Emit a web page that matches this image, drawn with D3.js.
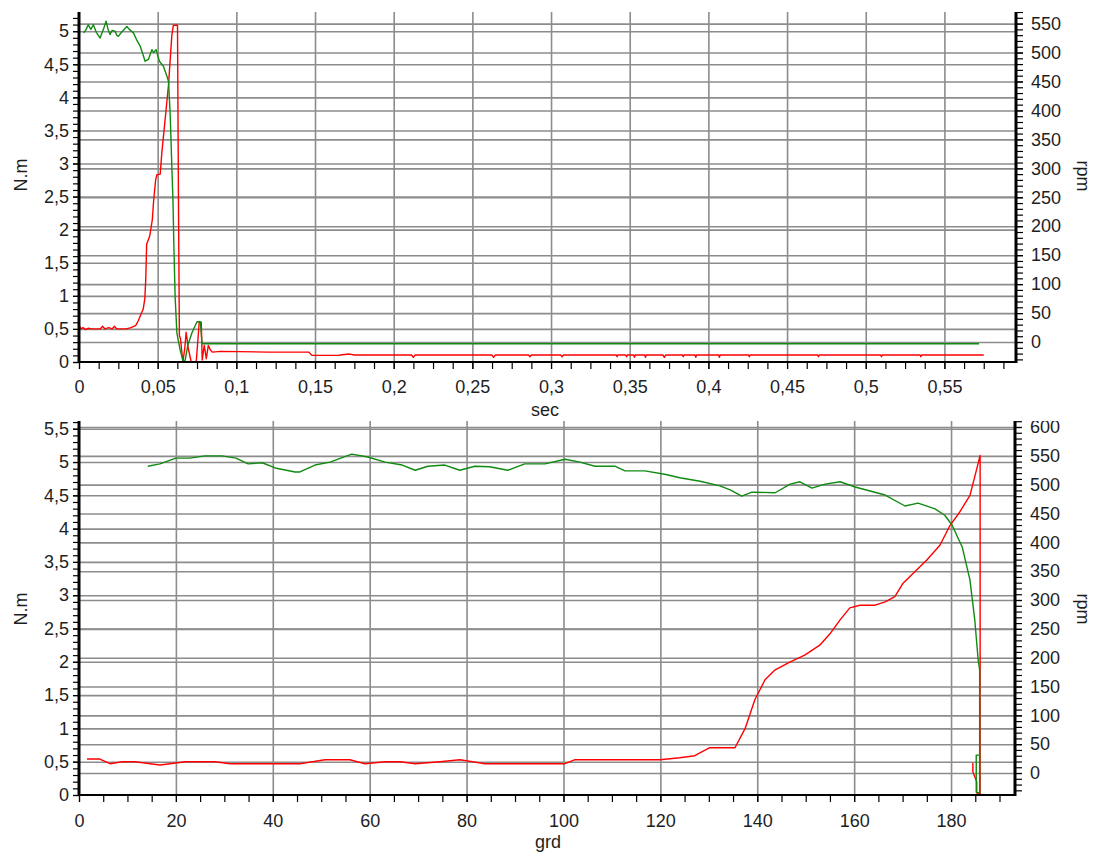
<!DOCTYPE html>
<html><head><meta charset="utf-8">
<script src="https://cdn.jsdelivr.net/npm/d3@7"></script>
<style>
body{margin:0;background:#fff}
svg{display:block}
text{font-family:"Liberation Sans",Arial,sans-serif;}
</style>
</head><body>
<svg id="c" width="1094" height="856"></svg>
<script>
// ---------------- DATA ----------------
// Top panel: x = time (sec)
const topXTicks = [0,0.05,0.1,0.15,0.2,0.25,0.3,0.35,0.4,0.45,0.5,0.55];
const topLeftTicks = [0,0.5,1,1.5,2,2.5,3,3.5,4,4.5,5];
const topRightTicks = [0,50,100,150,200,250,300,350,400,450,500,550];
// torque (N.m, left axis) - red
const topTorqueSec = [0,0.0013,0.0025,0.004,0.006,0.008,0.011,0.0135,0.015,0.0165,0.019,0.021,0.0225,0.024,0.03,0.033,0.036,0.0376,0.039,0.0408,0.0418,0.0424,0.043,0.0449,0.0466,0.0474,0.0487,0.0495,0.0516,0.0527,0.0548,0.0569,0.059,0.06,0.0626,0.0632,0.0638,0.0645,0.066,0.0672,0.0681,0.0695,0.0713,0.0745,0.0764,0.0777,0.0783,0.0796,0.0809,0.0822,0.0835,0.0847,0.09,0.12,0.146,0.148,0.165,0.167,0.172,0.175,0.2115,0.2125,0.2135,0.2625,0.2635,0.2645,0.2857,0.2866,0.2875,0.3062,0.307,0.3078,0.3415,0.342,0.3425,0.3475,0.348,0.3485,0.3525,0.353,0.3535,0.3595,0.36,0.3605,0.3712,0.372,0.3728,0.3835,0.384,0.3845,0.3915,0.392,0.3925,0.4065,0.407,0.4075,0.4255,0.426,0.4265,0.4695,0.47,0.4705,0.5095,0.51,0.5105,0.5345,0.535,0.5355,0.575];
const topTorque =    [0.55,0.5,0.52,0.49,0.51,0.5,0.5,0.5,0.54,0.5,0.52,0.5,0.54,0.5,0.5,0.52,0.55,0.62,0.7,0.8,0.95,1.23,1.78,1.9,2.15,2.43,2.75,2.83,2.84,3.18,3.68,4.19,4.94,5.09,5.09,2.5,0.4,0.35,0.0,0.2,0.45,0.2,0.0,0.0,0.6,0.6,0.03,0.25,0.05,0.25,0.18,0.15,0.16,0.15,0.15,0.1,0.1,0.11,0.12,0.105,0.105,0.07,0.105,0.105,0.07,0.105,0.105,0.08,0.105,0.105,0.08,0.105,0.105,0.08,0.105,0.105,0.08,0.105,0.105,0.07,0.105,0.105,0.07,0.105,0.105,0.07,0.105,0.105,0.08,0.105,0.105,0.07,0.105,0.105,0.07,0.105,0.105,0.08,0.105,0.105,0.08,0.105,0.105,0.08,0.105,0.105,0.08,0.105,0.105];
// speed (rpm, right axis) - green
const topRpmSec = [0.003,0.0045,0.0059,0.0075,0.0091,0.011,0.0134,0.0155,0.0172,0.0185,0.0197,0.021,0.0229,0.024,0.025,0.027,0.0304,0.032,0.0346,0.037,0.0389,0.0405,0.042,0.0441,0.0463,0.0475,0.049,0.0511,0.0537,0.0559,0.0569,0.058,0.059,0.0597,0.0603,0.0611,0.0622,0.0643,0.0664,0.0675,0.0692,0.0718,0.075,0.0771,0.0782,0.572];
const topRpm =    [534,540,548,540,548,535,525,540,554,540,531,538,537,530,528,535,545,540,534,520,511,498,485,488,505,500,505,485,476,459,450,390,303,246,165,78,16,-14,-35,-31,-5,16,35,35,-3,-3];

// Bottom panel: x = angle (grd)
const botXTicks = [0,20,40,60,80,100,120,140,160,180];
const botLeftTicks = [0,0.5,1,1.5,2,2.5,3,3.5,4,4.5,5,5.5];
const botRightTicks = [0,50,100,150,200,250,300,350,400,450,500,550,600];
// torque (N.m) - red
const botTorqueGrd = [1.65,4.3,6.4,8.9,11.6,16.7,18.8,21.9,28.1,31.2,45.6,50.8,55.9,59,63.2,66.3,69.4,74.5,78.6,83.8,100.3,102.4,119.9,124,127.1,130.2,135.4,137.5,139.5,141.6,143.7,146.8,149.8,152.9,155,157.1,159.1,161.2,164.3,166.4,168.4,170.1,172.2,175,177.7,179.8,181.8,183.9,184.9,186.0,186.0,185.3,185.3,184.5,184.5];
const botTorque =    [0.54,0.54,0.47,0.5,0.5,0.45,0.47,0.5,0.5,0.47,0.47,0.53,0.53,0.47,0.5,0.5,0.47,0.5,0.53,0.47,0.47,0.53,0.53,0.56,0.59,0.71,0.71,1.0,1.43,1.73,1.88,2.0,2.1,2.25,2.42,2.63,2.81,2.85,2.85,2.9,2.98,3.18,3.33,3.53,3.75,4.05,4.25,4.5,4.78,5.1,0.02,0.03,0.2,0.35,0.48];
// speed (rpm) - green
const botRpmGrd = [14.2,16.7,20,22.9,26,29.5,32.4,34.9,37.8,40.5,44.6,45.6,48.7,51.8,56.3,59.6,63.2,66.7,69.4,72,75.5,78.6,81.7,84.8,88.5,92,96.2,100.3,103.4,106.5,110.6,112.7,116.8,120.9,124,128.2,132.3,134.4,136.8,138.9,143.7,146.8,148.8,151.3,154,157.1,160.2,163.3,166.4,170.5,173.2,176.7,178.7,180.2,182.3,183.9,184.9,185.6,185.9,185.9,185.2,185.2,185.8];
const botRpm =    [532,536,546,546,550,550,546,536,538,529,522,522,534,539,553,548,539,534,525,532,534,525,532,531,525,536,536,544,539,532,532,524,524,518,512,506,498,491,480,487,486,501,505,494,501,505,496,489,482,463,468,458,447,430,392,335,265,196,179,-35,-33,31,31];

// ---------------- DRAW ----------------
const svg = d3.select('#c');
const fmt = v => String(+v.toFixed(4)).replace('.', ',');
const GRID = '#8c8c8c';

function panel(o){
  const x = d3.scaleLinear().domain(o.xDomain).range([o.left, o.right]);
  const yL = d3.scaleLinear().domain(o.yLDomain).range([o.bottom, o.top]);
  const yR = d3.scaleLinear().domain(o.yRDomain).range([o.bottom, o.top]);
  const h = o.bottom - o.top, w = o.right - o.left;

  const clipId = 'clip' + o.id;
  svg.append('clipPath').attr('id', clipId).append('rect')
    .attr('x', 0).attr('y', o.top).attr('width', 1094).attr('height', 856 - o.top);
  const g = svg.append('g').attr('clip-path', `url(#${clipId})`);

  // grid lines
  const gx = g.append('g').attr('transform', `translate(0,${o.bottom})`)
    .call(d3.axisBottom(x).tickValues(o.xTicks.filter(d => d > 0)).tickSize(-h).tickFormat(''));
  const gyl = g.append('g').attr('transform', `translate(${o.left},0)`)
    .call(d3.axisLeft(yL).tickValues(o.yLTicks.filter(d => d > 0)).tickSize(-w).tickFormat(''));
  const gyr = g.append('g').attr('transform', `translate(${o.right},0)`)
    .call(d3.axisRight(yR).tickValues(o.yRTicks).tickSize(-w).tickFormat(''));
  [gx, gyl, gyr].forEach(s => {
    s.select('.domain').remove();
    s.selectAll('line').attr('stroke', GRID).attr('stroke-width', 1.6);
  });

  // series
  const lineL = d3.line().x(d => x(d[0])).y(d => yL(d[1]));
  const lineR = d3.line().x(d => x(d[0])).y(d => yR(d[1]));
  g.append('path').datum(o.redX.map((v, i) => [v, o.redY[i]]))
    .attr('d', lineL).attr('fill', 'none').attr('stroke', '#ff0000').attr('stroke-width', 1.4)
    .attr('stroke-linejoin', 'round');
  g.append('path').datum(o.greenX.map((v, i) => [v, o.greenY[i]]))
    .attr('d', lineR).attr('fill', 'none').attr('stroke', '#118a11').attr('stroke-width', 1.4)
    .attr('stroke-linejoin', 'round');

  // axes
  const xMinor = d3.range(o.xDomain[0], o.xDomain[1] + 1e-9, o.xMinorStep);
  const yLMinor = d3.range(0, o.yLDomain[1] + 1e-9, o.yLMinorStep);
  const yRMinor = d3.range(o.yRMinorStart, o.yRDomain[1] + 1e-9, o.yRMinorStep);

  const axB = g.append('g').attr('transform', `translate(0,${o.bottom})`)
    .call(d3.axisBottom(x).tickValues(xMinor).tickSize(7).tickFormat(''));
  const axBL = g.append('g').attr('transform', `translate(0,${o.bottom})`)
    .call(d3.axisBottom(x).tickValues(o.xTicks).tickSize(7).tickPadding(o.xPad).tickFormat(fmt));
  const axL = g.append('g').attr('transform', `translate(${o.left},0)`)
    .call(d3.axisLeft(yL).tickValues(yLMinor).tickSize(6).tickFormat(''));
  const axLL = g.append('g').attr('transform', `translate(${o.left},0)`)
    .call(d3.axisLeft(yL).tickValues(o.yLTicks).tickSize(6).tickPadding(4).tickFormat(fmt));
  const axR = g.append('g').attr('transform', `translate(${o.right},0)`)
    .call(d3.axisRight(yR).tickValues(yRMinor).tickSize(7).tickFormat(''));
  const axRL = g.append('g').attr('transform', `translate(${o.right},0)`)
    .call(d3.axisRight(yR).tickValues(o.yRTicks).tickSize(7).tickPadding(8).tickFormat(fmt));

  [axB, axBL, axL, axLL, axR, axRL].forEach(s => {
    s.selectAll('.domain').remove();
    s.selectAll('line').attr('stroke', '#000').attr('stroke-width', 1.2);
    s.selectAll('text').attr('font-size', 18).attr('fill', '#1e1e1e')
      .attr('font-family', '"Liberation Sans",Arial,sans-serif');
  });
  // axis lines
  g.append('line').attr('x1', o.left).attr('x2', o.right).attr('y1', o.bottom).attr('y2', o.bottom)
    .attr('stroke', '#000').attr('stroke-width', 2);
  g.append('line').attr('x1', o.left).attr('x2', o.left).attr('y1', o.top).attr('y2', o.bottom + 1)
    .attr('stroke', '#000').attr('stroke-width', 3);
  g.append('line').attr('x1', o.right).attr('x2', o.right).attr('y1', o.top).attr('y2', o.bottom + 1)
    .attr('stroke', '#000').attr('stroke-width', 3);

  // titles
  svg.append('text').attr('x', o.xTitleX).attr('y', o.xTitleY).attr('text-anchor', 'middle')
    .attr('font-size', 18).attr('fill', '#1e1e1e').text(o.xTitle);
  svg.append('text').attr('transform', `translate(27,${o.lTitleY}) rotate(-90)`).attr('text-anchor', 'middle')
    .attr('font-size', 18).attr('fill', '#1e1e1e').text('N.m');
  svg.append('text').attr('transform', `translate(1077,${o.rTitleY}) rotate(90)`).attr('text-anchor', 'middle')
    .attr('font-size', 18).attr('fill', '#1e1e1e').text('rpm');
}

panel({
  id: 'top', left: 79, right: 1016, top: 12, bottom: 362,
  xDomain: [0, 0.5955], yLDomain: [0, 5.29], yRDomain: [-34.5, 570],
  xTicks: topXTicks, yLTicks: topLeftTicks, yRTicks: topRightTicks,
  xMinorStep: 0.0125, yLMinorStep: 0.1, yRMinorStep: 10, yRMinorStart: -30,
  xPad: 11,
  redX: topTorqueSec, redY: topTorque, greenX: topRpmSec, greenY: topRpm,
  xTitle: 'sec', xTitleX: 545, xTitleY: 416, lTitleY: 175, rTitleY: 176
});
panel({
  id: 'bot', left: 79, right: 1015, top: 421, bottom: 795,
  xDomain: [0, 193.2], yLDomain: [0, 5.616], yRDomain: [-38.1, 610.4],
  xTicks: botXTicks, yLTicks: botLeftTicks, yRTicks: botRightTicks,
  xMinorStep: 5, yLMinorStep: 0.1, yRMinorStep: 10, yRMinorStart: -30,
  xPad: 12,
  redX: botTorqueGrd, redY: botTorque, greenX: botRpmGrd, greenY: botRpm,
  xTitle: 'grd', xTitleX: 548, xTitleY: 848, lTitleY: 609, rTitleY: 609
});
</script>
</body></html>
